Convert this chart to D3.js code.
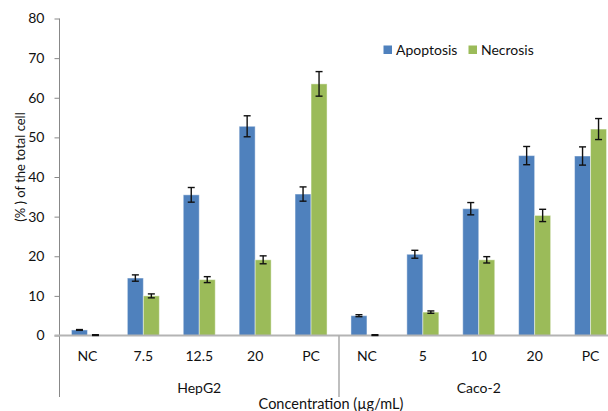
<!DOCTYPE html>
<html>
<head>
<meta charset="utf-8">
<script src="https://cdn.jsdelivr.net/npm/d3@7/dist/d3.min.js"></script>
<style>
  html, body { margin: 0; padding: 0; background: #fff; }
  svg { display: block; font-family: Lato, "Open Sans", sans-serif; }
</style>
</head>
<body>
<svg id="chart" width="608" height="411"></svg>
<script>
// Concentrations per cell line (inner axis level)
const categories = ["NC", "7.5", "12.5", "20", "PC", "NC", "5", "10", "20", "PC"];
// Cell lines (outer axis level): name and number of concentrations
const groupNames = ["HepG2", "Caco-2"];
const groupSizes = [5, 5];
const seriesNames = ["Apoptosis", "Necrosis"];
const apoptosis    = [1.4, 14.5, 35.5, 52.8, 35.7, 5.0, 20.5, 32.0, 45.4, 45.3];
const apoptosisErr = [0.1, 0.8, 1.85, 2.65, 1.8, 0.25, 1.0, 1.55, 2.3, 2.3];
const necrosis     = [0.05, 10.0, 14.1, 19.1, 63.5, 0.05, 5.9, 19.1, 30.3, 52.1];
const necrosisErr  = [0.15, 0.5, 0.75, 1.0, 3.1, 0.15, 0.3, 0.8, 1.55, 2.65];
const yTicks = [0, 10, 20, 30, 40, 50, 60, 70, 80];

const colors = { Apoptosis: "#4F81BD", Necrosis: "#9BBB59" };
const svg = d3.select("#chart");

const plotLeft = 59.5, plotRight = 618.5, plotTop = 18.5, plotBottom = 335.5;

const x0 = d3.scaleBand().domain(d3.range(categories.length)).range([plotLeft, plotRight]).paddingInner(0);
const x1 = d3.scaleBand().domain(seriesNames).range([0, x0.bandwidth()]).paddingInner(0).paddingOuter(0.747);
const y = d3.scaleLinear().domain([0, 80]).range([plotBottom, plotTop]);

const rows = categories.map((c, i) => ({
  i,
  values: [
    { key: "Apoptosis", v: apoptosis[i], e: apoptosisErr[i] },
    { key: "Necrosis", v: necrosis[i], e: necrosisErr[i] }
  ]
}));

// Y axis
const yAxis = d3.axisLeft(y).tickValues(yTicks).tickSize(5).tickPadding(10).tickSizeOuter(0);
const gy = svg.append("g").attr("transform", `translate(${plotLeft},0)`).call(yAxis);
gy.select(".domain").remove();
gy.selectAll(".tick line").attr("stroke", "#888");
gy.selectAll(".tick text").attr("font-size", 14).attr("fill", "#111").attr("font-family", "Lato, sans-serif");
svg.append("line").attr("x1", plotLeft).attr("x2", plotLeft).attr("y1", plotTop).attr("y2", 397)
  .attr("stroke", "#888").attr("stroke-width", 1);

// Bars
const cat = svg.append("g").selectAll("g").data(rows).join("g")
  .attr("transform", d => `translate(${x0(d.i)},0)`);
cat.selectAll("rect").data(d => d.values).join("rect")
  .attr("x", d => x1(d.key))
  .attr("width", x1.bandwidth())
  .attr("y", d => y(d.v))
  .attr("height", d => y(0) - y(d.v))
  .attr("fill", d => colors[d.key])
  .attr("stroke", "rgba(255,255,255,0.45)")
  .attr("stroke-width", 1);

// X axis line
svg.append("line").attr("x1", plotLeft - 5).attr("x2", 608).attr("y1", plotBottom).attr("y2", plotBottom)
  .attr("stroke", "#b4b4b4").attr("stroke-width", 2);

// Error bars
const errRows = svg.append("g").selectAll("g").data(rows).join("g")
  .attr("transform", d => `translate(${x0(d.i)},0)`);
const eb = errRows.selectAll("g").data(d => d.values).join("g")
  .attr("transform", d => `translate(${x1(d.key) + x1.bandwidth() / 2},0)`)
  .attr("stroke", "#111").attr("stroke-width", 1.4);
eb.append("line").attr("y1", d => y(d.v + d.e)).attr("y2", d => y(Math.max(0, d.v - d.e)));
eb.append("line").attr("x1", -3.5).attr("x2", 3.5).attr("y1", d => y(d.v + d.e)).attr("y2", d => y(d.v + d.e));
eb.append("line").attr("x1", -3.5).attr("x2", 3.5).attr("y1", d => y(Math.max(0, d.v - d.e))).attr("y2", d => y(Math.max(0, d.v - d.e)));

// Inner category labels
svg.append("g").selectAll("text").data(categories).join("text")
  .attr("x", (d, i) => x0(i) + x0.bandwidth() / 2)
  .attr("y", 361)
  .attr("text-anchor", "middle")
  .attr("font-size", 14).attr("fill", "#111")
  .text(d => d);

// Outer group labels and separators
let start = 0;
groupNames.forEach((g, k) => {
  const n = groupSizes[k];
  const gx0 = x0(start), gx1 = x0(start + n - 1) + x0.bandwidth();
  svg.append("text").attr("x", (gx0 + gx1) / 2).attr("y", 393)
    .attr("text-anchor", "middle").attr("font-size", 14).attr("fill", "#111").text(g);
  if (k > 0) {
    svg.append("line").attr("x1", gx0).attr("x2", gx0).attr("y1", plotBottom).attr("y2", 397)
      .attr("stroke", "#aaa").attr("stroke-width", 1.5);
  }
  start += n;
});

// Axis titles
svg.append("text").attr("x", 331).attr("y", 409).attr("text-anchor", "middle")
  .attr("font-size", 14.5).attr("fill", "#111").text("Concentration (µg/mL)");
svg.append("text").attr("transform", "translate(25,167) rotate(-90)").attr("text-anchor", "middle")
  .attr("font-size", 13).attr("fill", "#111").text("(% ) of the total cell");

// Legend
const legendX = [383.5, 468.5];
const lg = svg.append("g").selectAll("g").data(seriesNames).join("g")
  .attr("transform", (d, i) => `translate(${legendX[i]},45.5)`);
lg.append("rect").attr("width", 8.5).attr("height", 8.5).attr("fill", d => colors[d]);
lg.append("text").attr("x", 12.5).attr("y", 9).attr("font-size", 14).attr("fill", "#111").text(d => d);
</script>
</body>
</html>
